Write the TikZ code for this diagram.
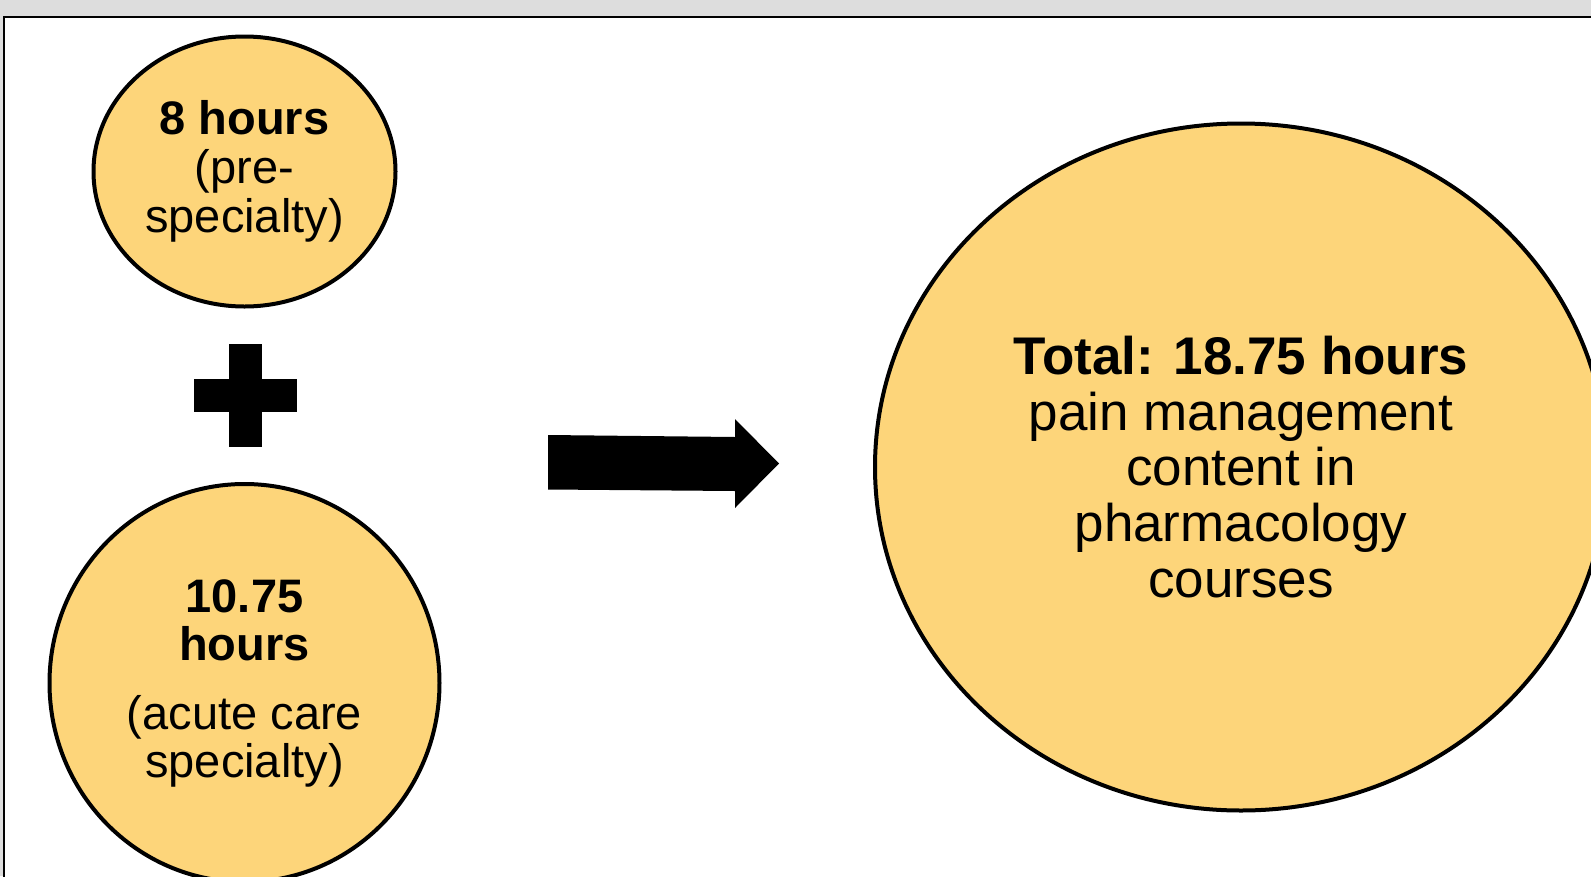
\documentclass[tikz,border=0pt]{standalone}
\usepackage{fontspec}
\setmainfont{Liberation Sans}
\usetikzlibrary{shapes.geometric}

\definecolor{panelgray}{RGB}{221,221,221}
\definecolor{hoursyellow}{RGB}{253,213,122}

\tikzset{
	hours/.style={ellipse,draw=black,line width=4pt,fill=hoursyellow,align=center,inner sep=0pt},
}

\begin{document}
\begin{tikzpicture}[x=1pt,y=-1pt]
\useasboundingbox (0,0) rectangle (1591,876);
\fill[panelgray] (0,0) rectangle (1591,876);
\draw[fill=white,line width=2pt] (3.5,17) rectangle (1600,885);

% the two parts
\node (pre) at (244.5,171.5) [hours,minimum width=302pt,minimum height=270pt,font=\fontsize{47}{48.7}\selectfont]
	{\textbf{8 hours}\\(pre-\\specialty)};
\node (acute) at (244.5,683) [hours,minimum width=390pt,minimum height=398pt,font=\fontsize{47}{48}\selectfont]
	{\textbf{10.75}\\\textbf{hours}\\[21pt](acute care\\specialty)};

% plus sign
\fill (228.5,344) rectangle (261.5,446.5);
\fill (194,379) rectangle (296.5,411.5);

% arrow
\fill (548,435) -- (735,437) -- (735,419) -- (779,463.5) -- (735,508) -- (735,491) -- (548,489.5) -- cycle;

% the total
\node (total) at (1241,467) [hours,minimum width=732pt,minimum height=687pt,font=\fontsize{53}{55.8}\selectfont]
	{\textbf{Total: 18.75 hours}\\pain management\\content in\\pharmacology\\courses};
\end{tikzpicture}
\end{document}
